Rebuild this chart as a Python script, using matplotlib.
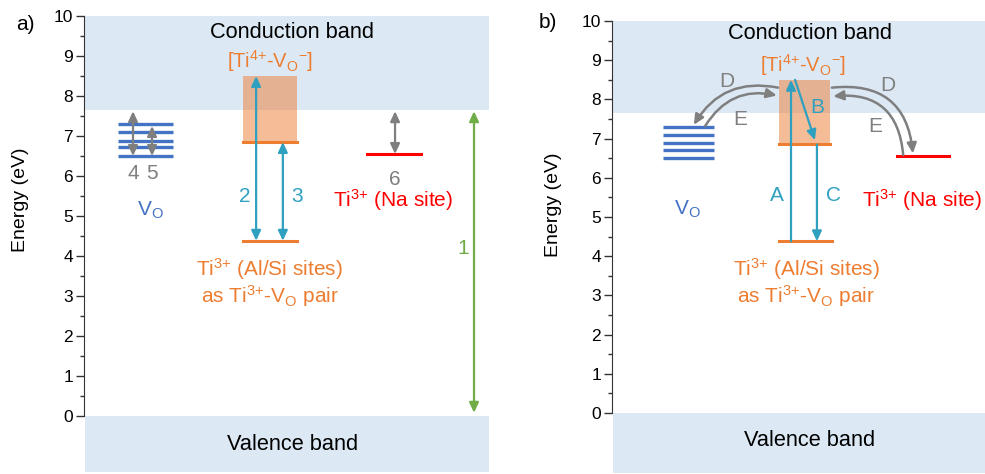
import matplotlib
matplotlib.use("Agg")
import matplotlib.pyplot as plt
from matplotlib.patches import FancyArrowPatch, Rectangle

plt.rcParams["font.family"] = ["Liberation Sans", "DejaVu Sans"]
plt.rcParams["mathtext.fontset"] = "custom"
plt.rcParams["mathtext.rm"] = "Liberation Sans"
plt.rcParams["mathtext.it"] = "Liberation Sans"
plt.rcParams["mathtext.default"] = "regular"

# ---- energies (eV) ------------------------------------------------------
CB_EDGE    = 7.65
VO_LEVELS  = [7.3, 7.1, 6.88, 6.72, 6.5]
TI_PAIR_HI = 6.85          # Ti4+-Vo- level (bottom of box)
TI_PAIR_TOP = 8.5          # top of [Ti4+-Vo-] box
TI_PAIR_LO = 4.38          # Ti3+ (Al/Si) level
TI_NA      = 6.55          # Ti3+ (Na site)

# panel a transitions: (label, energy from, energy to)
TRANS_A = {"1": (0.08, 7.62), "2": (4.38, 8.5), "3": (4.38, 6.85),
           "4": (6.5, 7.62), "5": (6.5, 7.25), "6": (6.55, 7.62)}

# ---- colours -------------------------------------------------------------
BAND   = "#dce9f5"
ORANGE = "#ED7D31"
CYAN   = "#2FA0BF"
BLUE   = "#4472C4"
RED    = "#FF0000"
GRAY   = "#7F7F7F"
GREEN  = "#70AD47"
FS = 15

W, H = 985, 474

TI4 = "[Ti$^{4{+}}$-V$_{O}{}^{-}$]"
TI3_AL = "Ti$^{3{+}}$ (Al/Si sites)"
TI3_PAIR = "as Ti$^{3{+}}$-V$_{O}$ pair"
TI3_NA = "Ti$^{3{+}}$ (Na site)"


def arrow(ax, p0, p1, color, style="<|-|>", lw=1.6, rad=None):
    kw = dict(arrowstyle=f"{style},head_length=0.6,head_width=0.28",
              mutation_scale=10, color=color, lw=lw,
              shrinkA=0, shrinkB=0, zorder=4)
    if rad is not None:
        kw["connectionstyle"] = f"arc3,rad={rad}"
    ax.add_patch(FancyArrowPatch(p0, p1, **kw))


def setup_axes(rect, xmax, ymin):
    ax = plt.gcf().add_axes(rect)
    ax.set_xlim(0, xmax)
    ax.set_ylim(ymin, 10)
    for s in ("top", "right", "bottom"):
        ax.spines[s].set_visible(False)
    ax.spines["left"].set_bounds(0, 10)
    ax.spines["left"].set_color("#333333")
    ax.set_xticks([])
    ax.set_yticks(range(0, 11))
    ax.set_yticks([i + 0.5 for i in range(10)], minor=True)
    ax.tick_params(axis="y", which="major", length=6, width=1,
                   color="#333333", labelsize=12.5, pad=2)
    ax.tick_params(axis="y", which="minor", length=3, width=1,
                   color="#333333")
    ax.axhspan(CB_EDGE, 10, xmin=0.003, color=BAND, lw=0, zorder=0)
    ax.axhspan(ymin, 0, xmin=0.003, color=BAND, lw=0, zorder=0)
    return ax


fig = plt.figure(figsize=(W / 100, H / 100), dpi=100)

# ======================= panel a =========================================
ax = setup_axes([84 / W, 2 / H, 405 / W, 456 / H], 10, -1.4)

ax.text(5.14, 9.6, "Conduction band", ha="center", va="center", fontsize=15.7)
ax.text(5.16, -0.7, "Valence band", ha="center", va="center", fontsize=15.7)

for e in VO_LEVELS:
    ax.plot([0.84, 2.2], [e, e], color=BLUE, lw=2.4, solid_capstyle="butt")
arrow(ax, (1.21, TRANS_A["4"][0]), (1.21, TRANS_A["4"][1]), GRAY)
arrow(ax, (1.68, TRANS_A["5"][0]), (1.68, TRANS_A["5"][1]), GRAY)
ax.text(1.21, 6.07, "4", ha="center", va="center", fontsize=FS, color=GRAY)
ax.text(1.68, 6.07, "5", ha="center", va="center", fontsize=FS, color=GRAY)
ax.text(1.63, 5.15, "V$_{O}$", ha="center", va="center", fontsize=FS, color=BLUE)

ax.add_patch(Rectangle((3.93, TI_PAIR_HI), 1.33, TI_PAIR_TOP - TI_PAIR_HI,
                       color=ORANGE, alpha=0.5, lw=0, zorder=1))
ax.plot([3.93, 5.26], [TI_PAIR_HI, TI_PAIR_HI], color=ORANGE, lw=2.2)
ax.plot([3.93, 5.26], [TI_PAIR_LO, TI_PAIR_LO], color=ORANGE, lw=2.2)
arrow(ax, (4.25, TRANS_A["2"][0]), (4.25, TRANS_A["2"][1]), CYAN)
arrow(ax, (4.91, TRANS_A["3"][0]), (4.91, TRANS_A["3"][1]), CYAN)
ax.text(3.98, 5.48, "2", ha="center", va="center", fontsize=FS, color=CYAN)
ax.text(5.26, 5.48, "3", ha="center", va="center", fontsize=FS, color=CYAN)
ax.text(4.59, 8.88, TI4, ha="center", va="center", fontsize=FS - 0.5, color=ORANGE)
ax.text(4.59, 3.68, TI3_AL, ha="center", va="center", fontsize=FS, color=ORANGE)
ax.text(4.59, 3.0, TI3_PAIR, ha="center", va="center", fontsize=FS, color=ORANGE)

ax.plot([6.99, 8.32], [TI_NA, TI_NA], color=RED, lw=2.2)
arrow(ax, (7.68, TRANS_A["6"][0]), (7.68, TRANS_A["6"][1]), GRAY)
ax.text(7.68, 5.92, "6", ha="center", va="center", fontsize=FS, color=GRAY)
ax.text(7.63, 5.4, TI3_NA, ha="center", va="center", fontsize=FS, color=RED)

arrow(ax, (9.63, TRANS_A["1"][0]), (9.63, TRANS_A["1"][1]), GREEN)
ax.text(9.36, 4.2, "1", ha="center", va="center", fontsize=FS, color=GREEN)

fig.text(25 / W, 1 - 24 / H, "a)", ha="center", va="center", fontsize=FS)
fig.text(21 / W, 1 - 200 / H, "Energy (eV)", ha="center", va="center",
         rotation=90, fontsize=14)

# ======================= panel b =========================================
ax = setup_axes([612 / W, 1 / H, 373 / W, 452 / H], 373 / 40.5, -1.53)

ax.text(4.89, 9.67, "Conduction band", ha="center", va="center", fontsize=15.7)
ax.text(4.89, -0.69, "Valence band", ha="center", va="center", fontsize=15.7)

for e in VO_LEVELS:
    ax.plot([1.26, 2.52], [e, e], color=BLUE, lw=2.4, solid_capstyle="butt")
ax.text(1.85, 5.2, "V$_{O}$", ha="center", va="center", fontsize=FS, color=BLUE)

ax.add_patch(Rectangle((4.12, TI_PAIR_HI), 1.26, TI_PAIR_TOP - TI_PAIR_HI,
                       color=ORANGE, alpha=0.5, lw=0, zorder=1))
ax.plot([4.12, 5.38], [TI_PAIR_HI, TI_PAIR_HI], color=ORANGE, lw=2.2)
ax.plot([4.12, 5.43], [TI_PAIR_LO, TI_PAIR_LO], color=ORANGE, lw=2.2)
arrow(ax, (4.42, TI_PAIR_LO), (4.42, TI_PAIR_TOP), CYAN, style="-|>")
arrow(ax, (4.52, TI_PAIR_TOP), (5.01, 6.96), CYAN, style="-|>")
arrow(ax, (5.06, TI_PAIR_HI), (5.06, TI_PAIR_LO), CYAN, style="-|>")
ax.text(4.07, 5.55, "A", ha="center", va="center", fontsize=FS, color=CYAN)
ax.text(5.06, 7.8, "B", ha="center", va="center", fontsize=FS, color=CYAN)
ax.text(5.46, 5.55, "C", ha="center", va="center", fontsize=FS, color=CYAN)
ax.text(4.72, 8.88, TI4, ha="center", va="center", fontsize=FS - 0.5, color=ORANGE)
ax.text(4.79, 3.67, TI3_AL, ha="center", va="center", fontsize=FS, color=ORANGE)
ax.text(4.79, 2.98, TI3_PAIR, ha="center", va="center", fontsize=FS, color=ORANGE)

ax.plot([7.04, 8.32], [TI_NA, TI_NA], color=RED, lw=2.2)
ax.text(7.65, 5.43, TI3_NA, ha="center", va="center", fontsize=FS, color=RED)

# trapping / de-trapping paths
arrow(ax, (4.1, 8.3), (2.02, 7.35), GRAY, style="-|>", lw=1.8, rad=0.35)
arrow(ax, (2.30, 7.32), (4.07, 8.1), GRAY, style="-|>", lw=1.8, rad=-0.35)
arrow(ax, (5.43, 8.3), (7.43, 6.62), GRAY, style="-|>", lw=1.8, rad=-0.5)
arrow(ax, (7.19, 6.58), (5.46, 8.08), GRAY, style="-|>", lw=1.8, rad=0.5)
ax.text(2.84, 8.45, "D", ha="center", va="center", fontsize=FS, color=GRAY)
ax.text(3.16, 7.5, "E", ha="center", va="center", fontsize=FS, color=GRAY)
ax.text(6.81, 8.35, "D", ha="center", va="center", fontsize=FS, color=GRAY)
ax.text(6.49, 7.3, "E", ha="center", va="center", fontsize=FS, color=GRAY)

fig.text(548 / W, 1 - 22 / H, "b)", ha="center", va="center", fontsize=FS)
fig.text(553 / W, 1 - 205 / H, "Energy (eV)", ha="center", va="center",
         rotation=90, fontsize=14)

fig.savefig("out.png", dpi=100)
